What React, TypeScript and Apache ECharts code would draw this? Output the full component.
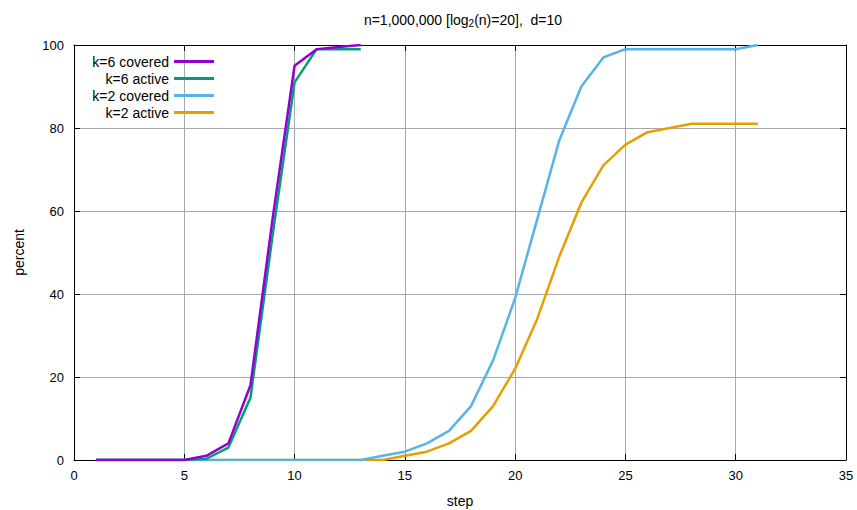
import React, { useEffect, useRef } from "react";
import * as echarts from "echarts";

const stepsK6 = [1, 2, 3, 4, 5, 6, 7, 8, 9, 10, 11, 12, 13];
const k6Covered = [0, 0, 0, 0, 0, 1, 4, 18, 58, 95, 99, 99.5, 100];
const k6Active = [0, 0, 0, 0, 0, 0.3, 3, 15, 54, 91, 99, 99, 99];

const stepsK2 = [
  1, 2, 3, 4, 5, 6, 7, 8, 9, 10, 11, 12, 13, 14, 15, 16, 17, 18, 19, 20, 21, 22,
  23, 24, 25, 26, 27, 28, 29, 30, 31,
];
const k2Covered = [
  0, 0, 0, 0, 0, 0, 0, 0, 0, 0, 0, 0, 0, 1, 2, 4, 7, 13, 24, 39, 58, 77, 90, 97,
  99, 99, 99, 99, 99, 99, 100,
];
const k2Active = [
  0, 0, 0, 0, 0, 0, 0, 0, 0, 0, 0, 0, 0, 0, 1, 2, 4, 7, 13, 22, 34, 49, 62, 71,
  76, 79, 80, 81, 81, 81, 81,
];

const seriesNames = ["k=6 covered", "k=6 active", "k=2 covered", "k=2 active"];
const seriesColors = ["#9400d3", "#009e73", "#56b4e9", "#e69f00"];

const xTicks = { min: 0, max: 35, interval: 5 };
const yTicks = { min: 0, max: 100, interval: 20 };

const FONT = "Liberation Sans, Arial, sans-serif";

export default function App() {
  const ref = useRef<HTMLDivElement>(null);
  useEffect(() => {
    if (!ref.current) return;
    const chart = echarts.init(ref.current, null, { renderer: "svg" });
    const pair = (xs: number[], ys: number[]) => xs.map((x, i) => [x, ys[i]]);
    const datasets = [
      pair(stepsK6, k6Covered),
      pair(stepsK6, k6Active),
      pair(stepsK2, k2Covered),
      pair(stepsK2, k2Active),
    ];
    const axisCommon = {
      axisLine: { show: true, onZero: false, lineStyle: { color: "#000", width: 1 } },
      axisTick: { show: true, inside: true, length: 6, lineStyle: { color: "#000" } },
    };
    chart.setOption({
      animation: false,
      textStyle: { fontFamily: FONT },
      title: {
        text: "n=1,000,000 [log{sub|2}(n)=20],  d=10",
        left: 458,
        textAlign: "center",
        top: 6,
        textStyle: {
          fontFamily: FONT,
          fontSize: 14,
          fontWeight: "normal",
          color: "#000",
          rich: {
            sub: { fontSize: 10, verticalAlign: "bottom", padding: [7, 0, 0, 0], fontFamily: FONT, color: "#000" },
          },
        },
      },
      grid: { left: 74, right: 11, top: 45, bottom: 50, outerBoundsMode: "none", containLabel: false },
      legend: {
        orient: "vertical",
        left: 86,
        top: 53,
        padding: 0,
        align: "right",
        icon: "rect",
        itemWidth: 40,
        itemHeight: 3,
        itemGap: 0,
        data: seriesNames,
        textStyle: { fontFamily: FONT, fontSize: 14, color: "#000", width: 83, align: "right", lineHeight: 17 },
      },
      xAxis: [
        {
          type: "value",
          ...xTicks,
          position: "bottom",
          name: "step",
          nameLocation: "middle",
          nameGap: 34,
          nameTextStyle: { fontFamily: FONT, fontSize: 14, color: "#000" },
          axisLabel: { color: "#000", fontSize: 13, fontFamily: FONT, margin: 9 },
          splitLine: { show: true, lineStyle: { color: "#a8a8a8", width: 1 } },
          ...axisCommon,
        },
        {
          type: "value",
          ...xTicks,
          position: "top",
          axisLabel: { show: false },
          splitLine: { show: false },
          ...axisCommon,
        },
      ],
      yAxis: [
        {
          type: "value",
          ...yTicks,
          position: "left",
          name: "percent",
          nameLocation: "middle",
          nameGap: 48,
          nameTextStyle: { fontFamily: FONT, fontSize: 14, color: "#000" },
          axisLabel: { color: "#000", fontSize: 13, fontFamily: FONT, margin: 10 },
          splitLine: { show: true, lineStyle: { color: "#a8a8a8", width: 1 } },
          ...axisCommon,
        },
        {
          type: "value",
          ...yTicks,
          position: "right",
          axisLabel: { show: false },
          splitLine: { show: false },
          ...axisCommon,
        },
      ],
      series: seriesNames.map((name, i) => ({
        name,
        type: "line",
        data: datasets[i],
        showSymbol: false,
        symbol: "none",
        color: seriesColors[i],
        lineStyle: { width: 2.5, color: seriesColors[i] },
        itemStyle: { color: seriesColors[i] },
        z: 10 - i,
      })),
    });
    return () => chart.dispose();
  }, []);
  return <div ref={ref} style={{ width: 857, height: 510, position: "absolute", left: 0, top: 0 }} />;
}
